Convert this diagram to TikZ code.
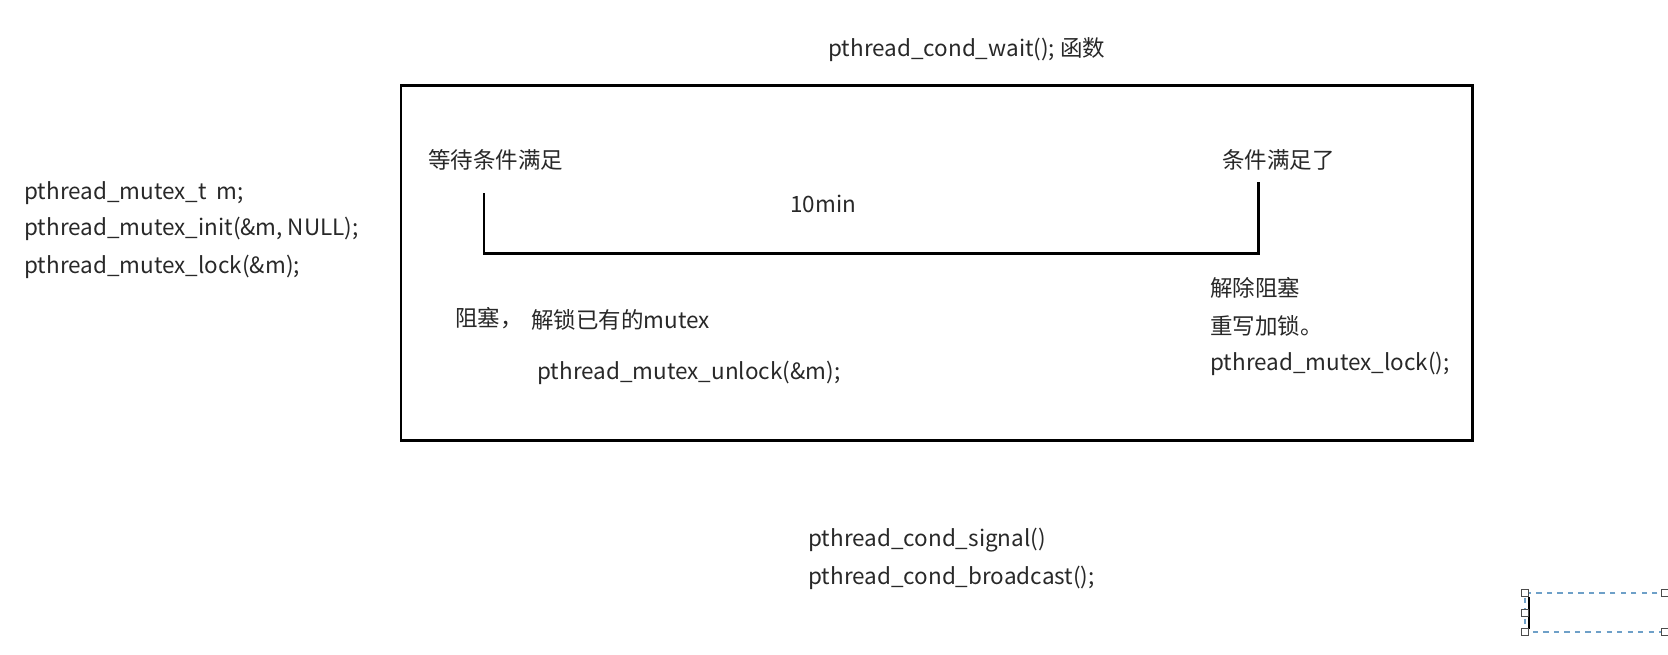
\documentclass[tikz,border=0pt]{standalone}
\usepackage{fontspec}
\setmainfont{Noto Sans CJK SC}
\usetikzlibrary{positioning}
\definecolor{inkgray}{RGB}{40, 40, 40}
\definecolor{selblue}{RGB}{110, 160, 200}

\begin{document}
\begin{tikzpicture}[x=0.02cm, y=-0.02cm,
    txt/.style={anchor=west, inner sep=0pt, text=inkgray, font=\fontsize{12.8pt}{15pt}\selectfont},
    frame/.style={draw=black, line width=1.7pt},
    span/.style={draw=black, line width=1.7pt},
    handle/.style={draw=black!70, fill=white, line width=0.4pt, minimum size=4pt, inner sep=0pt}]
  \useasboundingbox (0,0) rectangle (1668,654);

  % title and the box of the wait call
  \node[txt] (title) at (828,50) {pthread\_cond\_wait(); 函数};
  \draw[frame] (401,85) rectangle (1472,440);

  % code on the left
  \node[txt] (decl) at (24,193) {pthread\_mutex\_t\ \ m;};
  \node[txt] (init) at (24,229) {pthread\_mutex\_init(\&m, NULL);};
  \node[txt] (lock) at (24,267) {pthread\_mutex\_lock(\&m);};

  % the waiting time line
  \node[txt] (waitfor) at (428,160) {等待条件满足};
  \node[txt] (met) at (1222,160) {条件满足了};
  \coordinate (startTop) at (484,193);
  \coordinate (startLow) at (484,253);
  \coordinate (endLow) at (1258,253);
  \coordinate (endTop) at (1258,182);
  \draw[span] (startTop) -- (startLow) -- (endLow) -- (endTop);
  \node[txt] (tenmin) at (790,204) {10min};

  % what happens while blocked
  \node[txt] (block) at (455,318) {阻塞，};
  \node[txt] (unlockmsg) at (531,320) {解锁已有的mutex};
  \node[txt] (unlock) at (537,373) {pthread\_mutex\_unlock(\&m);};

  % what happens after the wake up
  \node[txt] (wake) at (1210,288) {解除阻塞};
  \node[txt] (relock) at (1210,326) {重写加锁。};
  \node[txt] (relockcall) at (1210,364) {pthread\_mutex\_lock();};

  % the calls that wake it up
  \node[txt] (signal) at (808,540) {pthread\_cond\_signal()};
  \node[txt] (bcast) at (808,578) {pthread\_cond\_broadcast();};

  % selected text box in the corner
  \draw[selblue, dashed, line width=0.8pt] (1668,593) -- (1525,593) -- (1525,632) -- (1668,632);
  \draw[black, line width=0.8pt] (1529,597) -- (1529,629);
  \node[handle] (h1) at (1525,593) {};
  \node[handle] (h2) at (1525,613) {};
  \node[handle] (h3) at (1525,632) {};
  \node[handle] (h4) at (1665,593) {};
  \node[handle] (h5) at (1665,632) {};
\end{tikzpicture}
\end{document}
